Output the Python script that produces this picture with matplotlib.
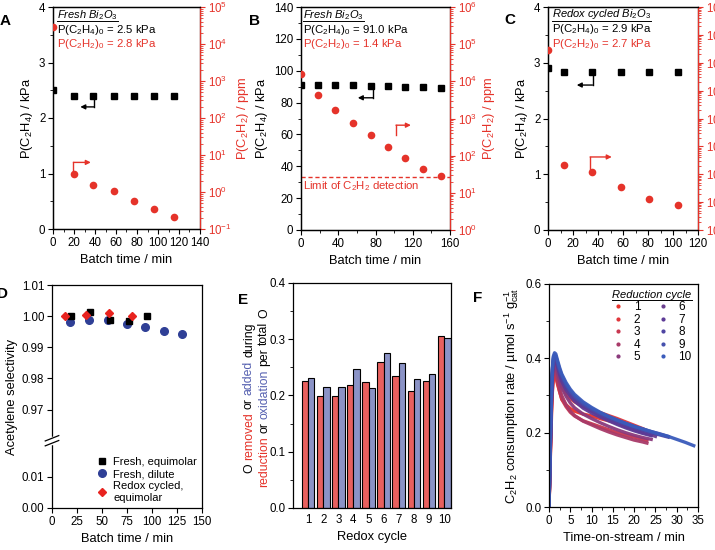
import matplotlib
matplotlib.use('Agg')
import matplotlib.pyplot as plt
import numpy as np
from matplotlib.lines import Line2D
from matplotlib.ticker import (MultipleLocator, LogLocator, FixedLocator,
                               FormatStrFormatter, NullLocator, NullFormatter)

plt.rcParams['font.family'] = ['Liberation Sans', 'DejaVu Sans']
plt.rcParams['mathtext.fontset'] = 'custom'
plt.rcParams['mathtext.rm'] = 'Liberation Sans'
plt.rcParams['mathtext.it'] = 'Liberation Sans:italic'
plt.rcParams['mathtext.bf'] = 'Liberation Sans:bold'
plt.rcParams['mathtext.default'] = 'regular'
plt.rcParams['xtick.labelsize'] = 8.3
plt.rcParams['ytick.labelsize'] = 8.3
plt.rcParams['axes.labelsize'] = 9.3
plt.rcParams['axes.linewidth'] = 0.9
plt.rcParams['xtick.major.size'] = 3.5
plt.rcParams['ytick.major.size'] = 3.5
plt.rcParams['xtick.minor.size'] = 2
plt.rcParams['ytick.minor.size'] = 2
plt.rcParams['xtick.major.pad'] = 2
plt.rcParams['ytick.major.pad'] = 2

RED = '#e5332a'
BLUE_D = '#2f3f96'

# ---- panel A : fresh Bi2O3, equimolar ----
a_t_c2h4 = [0, 20, 38, 58, 77, 96, 115]
a_c2h4 = [2.5, 2.4, 2.4, 2.4, 2.4, 2.4, 2.4]            # kPa
a_t_c2h2 = [0, 20, 38, 58, 77, 96, 115]
a_c2h2 = [29000, 3.0, 1.55, 1.07, 0.56, 0.34, 0.21]      # ppm

# ---- panel B : fresh Bi2O3, dilute ----
b_t = [0, 18, 37, 56, 75, 93, 112, 131, 150]
b_c2h4 = [91.0, 91.0, 91.0, 91.0, 90.5, 90.5, 90.0, 89.5, 89.0]
b_c2h2 = [15500, 4270, 1740, 760, 350, 174, 87, 44, 28]
b_limit = 27   # ppm, detection limit

# ---- panel C : redox cycled Bi2O3 ----
c_t = [0, 13, 35, 58, 81, 104]
c_c2h4 = [2.9, 2.83, 2.83, 2.83, 2.84, 2.83]
c_c2h2 = [28000, 2.2, 1.23, 0.36, 0.125, 0.081]

# ---- panel D : acetylene selectivity ----
d_fresh_eq_t = [19.3, 38.3, 57.5, 76.5, 95.2]
d_fresh_eq_s = [1.000, 1.0012, 0.9989, 0.9984, 1.0002]
d_fresh_dil_t = [17.7, 37, 56, 74.7, 93.3, 111.7, 130.3]
d_fresh_dil_s = [0.9981, 0.9987, 0.9987, 0.9974, 0.9966, 0.9952, 0.9942]
d_redox_t = [13.3, 33.7, 57, 80.3]
d_redox_s = [1.000, 1.0003, 1.0009, 1.0001]

# ---- panel E : O removed / added per redox cycle ----
e_cycle = np.arange(1, 11)
e_removed = [0.225, 0.200, 0.200, 0.219, 0.224, 0.259, 0.235, 0.208, 0.226, 0.305]
e_added = [0.232, 0.215, 0.216, 0.247, 0.213, 0.275, 0.257, 0.230, 0.238, 0.302]

# ---- panel F : C2H2 consumption rate vs time on stream ----
f_time_base = [0, 0.2, 0.4, 0.6, 0.8, 1.0, 1.3, 1.6, 2.0, 2.5, 3, 4, 5, 6, 8,
               10, 12, 14, 16, 18, 20, 22]
f_rate_1 = [0, 0.08, 0.17, 0.25, 0.31, 0.34, 0.355, 0.35, 0.33, 0.31, 0.29,
            0.275, 0.265, 0.258, 0.25, 0.245, 0.238, 0.232, 0.226, 0.22, 0.213, 0.205]
f_rate_2 = [0, 0.09, 0.19, 0.28, 0.33, 0.36, 0.375, 0.37, 0.355, 0.338, 0.325,
            0.305, 0.292, 0.283, 0.27, 0.262, 0.254, 0.246, 0.238, 0.229, 0.22, 0.211, 0.2]
f_rate_3 = [0, 0.08, 0.18, 0.27, 0.32, 0.35, 0.365, 0.355, 0.335, 0.31, 0.29,
            0.27, 0.255, 0.245, 0.232, 0.224, 0.216, 0.208, 0.2, 0.194, 0.188, 0.182, 0.179]
f_rate_4 = [0, 0.09, 0.19, 0.28, 0.34, 0.37, 0.38, 0.37, 0.345, 0.32, 0.30,
            0.275, 0.258, 0.246, 0.231, 0.221, 0.211, 0.202, 0.194, 0.187, 0.18, 0.175, 0.172]
f_rate_5 = [0, 0.1, 0.2, 0.29, 0.345, 0.375, 0.385, 0.378, 0.36, 0.34, 0.322,
            0.298, 0.28, 0.267, 0.25, 0.238, 0.227, 0.217, 0.208, 0.2, 0.193, 0.187, 0.182]
f_rate_6 = [0, 0.1, 0.21, 0.3, 0.36, 0.39, 0.40, 0.398, 0.382, 0.362, 0.345,
            0.322, 0.305, 0.292, 0.273, 0.258, 0.246, 0.235, 0.225, 0.216, 0.208, 0.2, 0.194, 0.19]
f_rate_7 = [0, 0.1, 0.2, 0.3, 0.355, 0.385, 0.395, 0.392, 0.376, 0.355, 0.338,
            0.315, 0.298, 0.285, 0.266, 0.253, 0.242, 0.232, 0.222, 0.213, 0.205, 0.198, 0.192]
f_rate_8 = [0, 0.11, 0.22, 0.31, 0.37, 0.395, 0.405, 0.402, 0.386, 0.366, 0.35,
            0.326, 0.309, 0.295, 0.276, 0.262, 0.25, 0.24, 0.231, 0.222, 0.214, 0.207, 0.2, 0.194, 0.188]
f_rate_9 = [0, 0.11, 0.22, 0.31, 0.37, 0.40, 0.41, 0.407, 0.39, 0.37, 0.354,
            0.33, 0.312, 0.298, 0.279, 0.265, 0.253, 0.243, 0.234, 0.225, 0.217, 0.21, 0.203, 0.197, 0.19]
f_rate_10 = [0, 0.12, 0.23, 0.32, 0.375, 0.405, 0.415, 0.412, 0.395, 0.375, 0.358,
             0.335, 0.317, 0.303, 0.283, 0.268, 0.255, 0.244, 0.234, 0.225, 0.217, 0.21,
             0.203, 0.196, 0.19, 0.182, 0.174, 0.165]
f_time = {1: f_time_base, 2: f_time_base + [24], 3: f_time_base + [23],
          4: f_time_base + [23], 5: f_time_base + [24], 6: f_time_base + [24, 25],
          7: f_time_base + [24], 8: f_time_base + [24, 26, 28],
          9: f_time_base + [24, 26, 28], 10: f_time_base + [24, 26, 28, 30, 32, 34]}
f_rates = [f_rate_1, f_rate_2, f_rate_3, f_rate_4, f_rate_5,
           f_rate_6, f_rate_7, f_rate_8, f_rate_9, f_rate_10]
f_colors = ['#e8312a', '#e0353a', '#c8374f', '#a83a68', '#8a3a7c',
            '#6a3f8e', '#5c3a96', '#4e44a2', '#4550ad', '#3a5bbb']

W, H = 715, 550
fig = plt.figure(figsize=(W / 100, H / 100), dpi=100)


def box(l, t, r, b):
    return [l / W, 1 - b / H, (r - l) / W, (b - t) / H]


def px(x, y):
    return x / W, 1 - y / H


def elbow(ax, p0, p1, p2, color):
    ax.plot([p0[0], p1[0]], [p0[1], p1[1]], color=color, lw=1)
    ax.annotate('', xy=p2, xytext=p1,
                arrowprops=dict(arrowstyle='-|>', color=color, lw=1,
                                mutation_scale=7, shrinkA=0, shrinkB=0))


def batch_panel(rect, t1, y1, t2, y2, xmax, xmaj, xmin, ymax, ymaj, ymin, logrange,
                right_label=True):
    ax = fig.add_axes(rect)
    ax2 = ax.twinx()
    ax.plot(t1, y1, 's', color='k', ms=4.5, zorder=3)
    ax2.plot(t2, y2, 'o', color=RED, ms=5.5, mec='none', zorder=3)
    ax.set_xlim(0, xmax)
    ax.set_ylim(0, ymax)
    ax.xaxis.set_major_locator(MultipleLocator(xmaj))
    ax.xaxis.set_minor_locator(MultipleLocator(xmin))
    ax.yaxis.set_major_locator(MultipleLocator(ymaj))
    ax.yaxis.set_minor_locator(MultipleLocator(ymin))
    ax2.set_yscale('log')
    ax2.set_ylim(*logrange)
    ax2.yaxis.set_major_locator(LogLocator(base=10, numticks=20))
    ax2.yaxis.set_minor_locator(LogLocator(base=10, subs=np.arange(2, 10), numticks=20))
    ax2.yaxis.set_minor_formatter(NullFormatter())
    ax2.spines['right'].set_color(RED)
    ax2.tick_params(axis='y', which='both', colors=RED)
    ax.set_xlabel('Batch time / min')
    ax.set_ylabel('P(C$_2$H$_4$) / kPa', labelpad=3)
    if right_label:
        ax2.set_ylabel('P(C$_2$H$_2$) / ppm', color=RED, labelpad=3)
    return ax, ax2


# A
axA, axA2 = batch_panel(box(53, 7, 200, 229), a_t_c2h4, a_c2h4, a_t_c2h2, a_c2h2,
                        140, 20, 10, 4, 1, 0.5, (1e-1, 1e5))
elbow(axA, (39, 2.4), (39, 2.2), (26, 2.2), 'k')
elbow(axA, (19.5, 1.0), (19.5, 1.2), (36, 1.2), RED)

# B
axB, axB2 = batch_panel(box(301, 7, 450, 230), b_t, b_c2h4, b_t, b_c2h2,
                        160, 40, 20, 140, 20, 10, (1, 1e6))
axB2.axhline(b_limit, color=RED, ls='--', lw=1, dashes=(3, 2))
elbow(axB, (77.6, 90.5), (77.6, 83), (61, 83), 'k')
elbow(axB, (102, 59.5), (102, 65.8), (118, 65.8), RED)

# C (its right-hand label falls outside the figure)
axC, axC2 = batch_panel(box(548, 7, 698, 230), c_t, c_c2h4, c_t, c_c2h2,
                        120, 20, 10, 4, 1, 0.5, (1e-2, 1e6), right_label=False)
elbow(axC, (35.6, 2.83), (35.6, 2.6), (23, 2.6), 'k')
elbow(axC, (33.7, 1.1), (33.7, 1.31), (51, 1.31), RED)

# annotation texts for A-C
ann_fs = 8.2
underlined = []
for x0, ys, cat, p4, p2 in [(57, (15, 30, 44), r'$\mathit{Fresh\ Bi_2O_3}$', '2.5', '2.8'),
                            (303, (15, 30, 44), r'$\mathit{Fresh\ Bi_2O_3}$', '91.0', '1.4'),
                            (552, (14, 29, 44), r'$\mathit{Redox\ cycled\ Bi_2O_3}$', '2.9', '2.7')]:
    t = fig.text(*px(x0, ys[0]), cat, fontsize=ann_fs - 0.2, va='center', ha='left')
    underlined.append(t)
    fig.text(*px(x0, ys[1]), 'P(C$_2$H$_4$)$_0$ = %s kPa' % p4, fontsize=ann_fs,
             va='center', ha='left')
    fig.text(*px(x0, ys[2]), 'P(C$_2$H$_2$)$_0$ = %s kPa' % p2, fontsize=ann_fs,
             va='center', ha='left', color=RED)
fig.text(*px(303, 179.5), 'Limit of C$_2$H$_2$ detection', fontsize=ann_fs,
         va='top', ha='left', color=RED)

# D
axD = fig.add_axes(box(52, 285, 202, 508))
brk_lo, brk_hi = 0.0216, 0.96


def fwd(y):
    y = np.asarray(y, dtype=float)
    return np.where(y > 0.5, y - (brk_hi - brk_lo), y)


def inv(y):
    y = np.asarray(y, dtype=float)
    return np.where(y > brk_lo, y + (brk_hi - brk_lo), y)


axD.set_yscale('function', functions=(fwd, inv))
axD.plot(d_fresh_eq_t, d_fresh_eq_s, 's', color='k', ms=4.5, label='Fresh, equimolar', zorder=3)
axD.plot(d_fresh_dil_t, d_fresh_dil_s, 'o', color=BLUE_D, ms=5.5, label='Fresh, dilute')
axD.plot(d_redox_t, d_redox_s, 'D', color='#e8231f', ms=4.5, label='Redox cycled,\nequimolar',
         zorder=4)
axD.set_xlim(0, 150)
axD.set_ylim(0, 1.01)
axD.xaxis.set_major_locator(MultipleLocator(25))
axD.yaxis.set_major_locator(FixedLocator([0, 0.01, 0.97, 0.98, 0.99, 1.00, 1.01]))
axD.yaxis.set_minor_locator(NullLocator())
axD.yaxis.set_major_formatter(FormatStrFormatter('%.2f'))
axD.set_xlabel('Batch time / min')
axD.set_ylabel('Acetylene selectivity', labelpad=3)
axD.legend(loc='lower right', frameon=False, fontsize=8, handletextpad=0.4,
           labelspacing=0.2, borderaxespad=0.05, handlelength=1.2)
yb = brk_lo / (1.01 - (brk_hi - brk_lo))
axD.plot([0, 0], [yb - 0.012, yb + 0.012], color='white', lw=2.5, transform=axD.transAxes,
         clip_on=False, zorder=5)
for dy in (-0.011, 0.011):
    axD.plot([-0.045, 0.045], [yb + dy - 0.012, yb + dy + 0.012], color='k', lw=0.9,
             transform=axD.transAxes, clip_on=False, zorder=6)

# E
axE = fig.add_axes(box(293, 283, 451, 508))
bw = 0.42
axE.bar(e_cycle - bw / 2, e_removed, bw, color='#e8605e', edgecolor='k', lw=0.8)
axE.bar(e_cycle + bw / 2, e_added, bw, color='#8b93c6', edgecolor='k', lw=0.8)
axE.set_xlim(0, 10.45)
axE.set_ylim(0, 0.4)
axE.set_xticks(e_cycle)
axE.tick_params(axis='x', length=0, pad=4)
axE.yaxis.set_major_locator(MultipleLocator(0.1))
axE.yaxis.set_minor_locator(MultipleLocator(0.05))
axE.yaxis.set_major_formatter(FormatStrFormatter('%.1f'))
axE.set_xlabel('Redox cycle')

# F
axF = fig.add_axes(box(549, 284, 698, 507))
for i in range(10):
    axF.plot(f_time[i + 1], f_rates[i], '-', color=f_colors[i], lw=2.4, alpha=0.95)
axF.set_xlim(0, 35)
axF.set_ylim(0, 0.6)
axF.xaxis.set_major_locator(MultipleLocator(5))
axF.xaxis.set_minor_locator(MultipleLocator(2.5))
axF.yaxis.set_major_locator(MultipleLocator(0.2))
axF.yaxis.set_minor_locator(MultipleLocator(0.1))
axF.yaxis.set_major_formatter(FormatStrFormatter('%.1f'))
axF.set_xlabel('Time-on-stream / min')
axF.set_ylabel('C$_2$H$_2$ consumption rate / µmol s$^{-1}$ g$_{cat}^{-1}$', labelpad=3)
handles = [Line2D([], [], ls='none', marker='.', ms=4, color=c) for c in f_colors]
legF = axF.legend(handles, [str(i) for i in range(1, 11)], ncol=2, loc='upper right',
                  frameon=False, fontsize=8.5, title='Reduction cycle',
                  title_fontproperties={'size': 8, 'style': 'italic'},
                  handletextpad=0.8, columnspacing=1.4, labelspacing=0.05,
                  borderaxespad=0.15, handlelength=1.0)
underlined.append(legF.get_title())

# panel letters
for s, (x, y) in zip('ABCDEF', [(5, 21), (254, 21), (510, 20), (3, 294), (243, 300), (478, 298)]):
    fig.text(*px(x, y), s, fontsize=11, fontweight='bold', ha='center', va='center')

# layout dependent pieces
fig.canvas.draw()
renderer = fig.canvas.get_renderer()
tf = fig.transFigure.inverted()
for t in underlined:
    bb = t.get_window_extent(renderer)
    (x0, y0), (x1, _) = tf.transform([(bb.x0, bb.y0 + 0.5), (bb.x1, bb.y0 + 0.5)])
    fig.add_artist(Line2D([x0, x1], [y0, y0], transform=fig.transFigure, color='k', lw=0.7))

# multicolour y label of panel E, words stacked along a shared baseline
e_label_lines = [
    (252, [('O', 'k'), ('removed', RED), ('or', 'k'), ('added', '#5560b0'), ('during', 'k')]),
    (267, [('reduction', RED), ('or', 'k'), ('oxidation', '#5560b0'), ('per', 'k'),
           ('total', 'k'), ('O', 'k')]),
]
lab_fs = 8.8


def text_len(s):
    t = fig.text(0, 0, s, fontsize=lab_fs, rotation=90)
    h = t.get_window_extent(renderer).height
    t.remove()
    return h


space = text_len('O O') - text_len('OO')
for xpos, parts in e_label_lines:
    lens = [text_len(w) for w, c in parts]
    total = sum(lens) + space * (len(parts) - 1)
    y = (H - 398) - total / 2
    for (w, c), L in zip(parts, lens):
        fig.text(xpos / W, y / H, w, fontsize=lab_fs, rotation=90, color=c,
                 rotation_mode='anchor', ha='left', va='baseline')
        y += L + space

fig.savefig('out.png', dpi=100)
